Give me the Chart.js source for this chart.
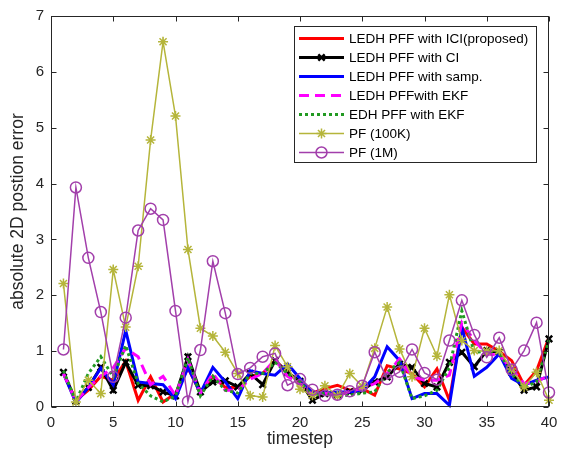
<!DOCTYPE html>
<html>
<head>
<meta charset="utf-8">
<script src="https://cdn.jsdelivr.net/npm/chart.js@4/dist/chart.umd.min.js"></script>
<style>
  html, body { margin: 0; padding: 0; background: #fff; }
  #wrap { width: 565px; height: 455px; }
</style>
</head>
<body>
<div id="wrap"><canvas id="errChart" width="565" height="455"></canvas></div>
<script>
// timesteps and errors
const timesteps = [1, 2, 3, 4, 5, 6, 7, 8, 9, 10, 11, 12, 13, 14, 15, 16, 17, 18, 19, 20,
                   21, 22, 23, 24, 25, 26, 27, 28, 29, 30, 31, 32, 33, 34, 35, 36, 37, 38, 39, 40];
const seriesNames = ["LEDH PFF with ICI(proposed)", "LEDH PFF with CI", "LEDH PFF with samp.",
                     "LEDH PFFwith EKF", "EDH PFF with EKF", "PF (100K)", "PF (1M)"];
const ledhIci = [0.60, 0.12, 0.30, 0.55, 0.48, 0.82, 0.12, 0.54, 0.09, 0.24, 0.70, 0.25, 0.55, 0.35, 0.35, 0.55, 0.60, 0.83, 0.62, 0.45,
                 0.25, 0.33, 0.39, 0.30, 0.33, 0.21, 0.74, 0.68, 0.60, 0.36, 0.68, 0.12, 1.43, 1.13, 1.13, 1.00, 0.83, 0.39, 0.65, 1.25];
const ledhCi = [0.62, 0.10, 0.35, 0.71, 0.30, 0.80, 0.39, 0.38, 0.27, 0.20, 0.90, 0.27, 0.45, 0.47, 0.36, 0.60, 0.40, 0.83, 0.62, 0.46,
                0.12, 0.24, 0.21, 0.27, 0.30, 0.45, 0.54, 0.77, 0.71, 0.42, 0.36, 0.80, 0.98, 0.72, 1.01, 0.98, 0.62, 0.30, 0.36, 1.22];
const ledhSamp = [0.60, 0.08, 0.35, 0.70, 0.40, 1.37, 0.45, 0.42, 0.40, 0.15, 0.71, 0.25, 0.71, 0.45, 0.15, 0.65, 0.60, 0.57, 0.77, 0.51,
                  0.25, 0.25, 0.27, 0.27, 0.30, 0.54, 1.08, 0.83, 0.15, 0.24, 0.24, 0.03, 1.43, 0.55, 0.71, 0.95, 0.51, 0.39, 0.48, 0.54];
const ledhEkf = [0.60, 0.10, 0.35, 0.55, 0.70, 1.05, 0.90, 0.40, 0.55, 0.20, 0.85, 0.25, 0.60, 0.30, 0.30, 0.50, 0.60, 0.85, 0.55, 0.42,
                 0.22, 0.25, 0.20, 0.28, 0.33, 0.42, 0.60, 0.86, 0.55, 0.48, 0.48, 0.57, 1.51, 1.19, 0.95, 0.93, 0.68, 0.42, 0.45, 0.57];
const edhEkf = [0.65, 0.10, 0.60, 0.90, 0.54, 1.10, 0.42, 0.20, 0.09, 0.20, 0.88, 0.20, 0.55, 0.30, 0.25, 0.60, 0.60, 0.80, 0.60, 0.45,
                0.20, 0.25, 0.20, 0.21, 0.25, 0.27, 0.62, 0.80, 0.15, 0.20, 0.30, 0.71, 1.72, 0.98, 1.00, 0.98, 0.60, 0.35, 0.45, 1.20];
const pf100k = [2.21, 0.09, 0.48, 0.24, 2.46, 1.43, 2.52, 4.78, 6.54, 5.21, 2.82, 1.41, 1.27, 0.98, 0.60, 0.20, 0.18, 1.10, 0.72, 0.32,
                0.21, 0.38, 0.20, 0.60, 0.37, 1.05, 1.79, 1.04, 0.54, 1.41, 0.91, 2.01, 1.19, 1.01, 1.00, 1.01, 0.68, 0.36, 0.62, 0.12];
const pf1m = [1.03, 3.93, 2.67, 1.70, 0.54, 1.60, 3.16, 3.55, 3.35, 1.72, 0.10, 1.02, 2.61, 1.68, 0.59, 0.70, 0.90, 0.96, 0.39, 0.50,
              0.31, 0.20, 0.22, 0.28, 0.38, 0.98, 0.50, 0.63, 1.03, 0.61, 0.49, 1.19, 1.91, 1.29, 0.89, 1.24, 0.67, 1.01, 1.51, 0.26];
const xTicks = [0, 5, 10, 15, 20, 25, 30, 35, 40];
const yTicks = [0, 1, 2, 3, 4, 5, 6, 7];

const FONT = "'Liberation Sans', Arial, Helvetica, sans-serif";
const AXIS_COLOR = "#262626";

function pts(vals) {
    return vals.map((v, i) => ({ x: timesteps[i], y: v }));
}

function line(idx, vals, color, width, extra) {
    return Object.assign({
        label: seriesNames[idx],
        data: pts(vals),
        borderColor: color,
        backgroundColor: color,
        borderWidth: width,
        pointRadius: 0,
        pointHoverRadius: 0,
        tension: 0,
        fill: false,
        clip: false,
        order: -idx   // later series on top, like matlab
    }, extra || {});
}

const datasets = [
    line(0, ledhIci, "#ff0000", 3),
    line(1, ledhCi, "#000000", 3, { pointStyle: "crossRot", pointRadius: 4.5, pointBorderWidth: 2.5, pointBorderColor: "#000000" }),
    line(2, ledhSamp, "#0000ff", 3),
    line(3, ledhEkf, "#ff00ff", 3, { borderDash: [10, 6] }),
    line(4, edhEkf, "#229a22", 3, { borderDash: [3, 3] }),
    line(5, pf100k, "#b5b53a", 1.5, { pointStyle: "star", pointRadius: 5, pointBorderWidth: 1.5, pointBorderColor: "#b5b53a" }),
    line(6, pf1m, "#a23fab", 1.5, { pointStyle: "circle", pointRadius: 5.5, pointBorderWidth: 1.5, pointBorderColor: "#a23fab", pointBackgroundColor: "rgba(0,0,0,0)" })
];

function drawMarker(ctx, style, x, y, r) {
    ctx.beginPath();
    if (style === "circle") {
        ctx.arc(x, y, r, 0, Math.PI * 2);
    } else {
        const d = r * Math.SQRT1_2;
        ctx.moveTo(x - d, y - d); ctx.lineTo(x + d, y + d);
        ctx.moveTo(x - d, y + d); ctx.lineTo(x + d, y - d);
        if (style === "star") {
            ctx.moveTo(x - r, y); ctx.lineTo(x + r, y);
            ctx.moveTo(x, y - r); ctx.lineTo(x, y + r);
        }
    }
    ctx.stroke();
}

// box, inward tick marks and the legend inside the axes
const matlabFrame = {
    id: "matlabFrame",
    afterDatasetsDraw(chart) {
        const ctx = chart.ctx;
        const a = chart.chartArea;
        const xs = chart.scales.x, ys = chart.scales.y;
        ctx.save();
        ctx.strokeStyle = AXIS_COLOR;
        ctx.lineWidth = 1;
        ctx.setLineDash([]);
        const L = Math.round(a.left) + 0.5, R = Math.round(a.right) - 0.5;
        const T = Math.round(a.top) + 0.5, B = Math.round(a.bottom) - 0.5;
        ctx.strokeRect(L, T, R - L, B - T);
        ctx.beginPath();
        xTicks.forEach(v => {
            const px = Math.round(xs.getPixelForValue(v)) + 0.5;
            ctx.moveTo(px, B); ctx.lineTo(px, B - 5);
            ctx.moveTo(px, T); ctx.lineTo(px, T + 5);
        });
        yTicks.forEach(v => {
            const py = Math.round(ys.getPixelForValue(v)) + 0.5;
            ctx.moveTo(L, py); ctx.lineTo(L + 5, py);
            ctx.moveTo(R, py); ctx.lineTo(R - 5, py);
        });
        ctx.stroke();

        // legend
        const lx = 294.5, ly = 26.5, lw = 242, lh = 136;
        ctx.fillStyle = "#ffffff";
        ctx.fillRect(lx, ly, lw, lh);
        ctx.strokeStyle = AXIS_COLOR;
        ctx.strokeRect(lx, ly, lw, lh);
        ctx.font = "13.5px " + FONT;
        ctx.textBaseline = "middle";
        ctx.textAlign = "left";
        chart.data.datasets.forEach((ds, i) => {
            const y = 38.5 + i * 19;
            ctx.strokeStyle = ds.borderColor;
            ctx.lineWidth = ds.borderWidth;
            ctx.setLineDash(ds.borderDash || []);
            ctx.beginPath();
            ctx.moveTo(299, y); ctx.lineTo(344, y);
            ctx.stroke();
            ctx.setLineDash([]);
            if (ds.pointRadius > 0) {
                ctx.lineWidth = ds.pointBorderWidth;
                drawMarker(ctx, ds.pointStyle, 321.5, y, ds.pointRadius);
            }
            ctx.fillStyle = "#000000";
            ctx.fillText(ds.label, 349, y + 1);
        });
        ctx.restore();
    }
};

new Chart(document.getElementById("errChart"), {
    type: "line",
    data: { datasets: datasets },
    options: {
        responsive: false,
        devicePixelRatio: 1,
        animation: false,
        events: [],
        layout: { padding: { top: 13, right: 16, left: 0, bottom: 0 } },
        plugins: { legend: { display: false }, tooltip: { enabled: false } },
        scales: {
            x: {
                type: "linear",
                min: 0, max: 40,
                afterFit: s => { s.height = 48; },
                afterBuildTicks: s => { s.ticks = xTicks.map(v => ({ value: v })); },
                grid: { display: false, drawTicks: false },
                border: { display: false },
                ticks: { padding: 7, color: AXIS_COLOR, font: { family: FONT, size: 15 } },
                title: { display: true, text: "timestep", color: AXIS_COLOR, padding: { top: 0, bottom: 5 },
                         font: { family: FONT, size: 17.5 } }
            },
            y: {
                min: 0, max: 7,
                afterFit: s => { s.width = 51; },
                afterBuildTicks: s => { s.ticks = yTicks.map(v => ({ value: v })); },
                grid: { display: false, drawTicks: false },
                border: { display: false },
                ticks: { padding: 7, color: AXIS_COLOR, font: { family: FONT, size: 15 } },
                title: { display: true, text: "absolute 2D postion error", color: AXIS_COLOR, padding: { top: 8, bottom: 0 },
                         font: { family: FONT, size: 17.5 } }
            }
        }
    },
    plugins: [matlabFrame]
});
</script>
</body>
</html>
